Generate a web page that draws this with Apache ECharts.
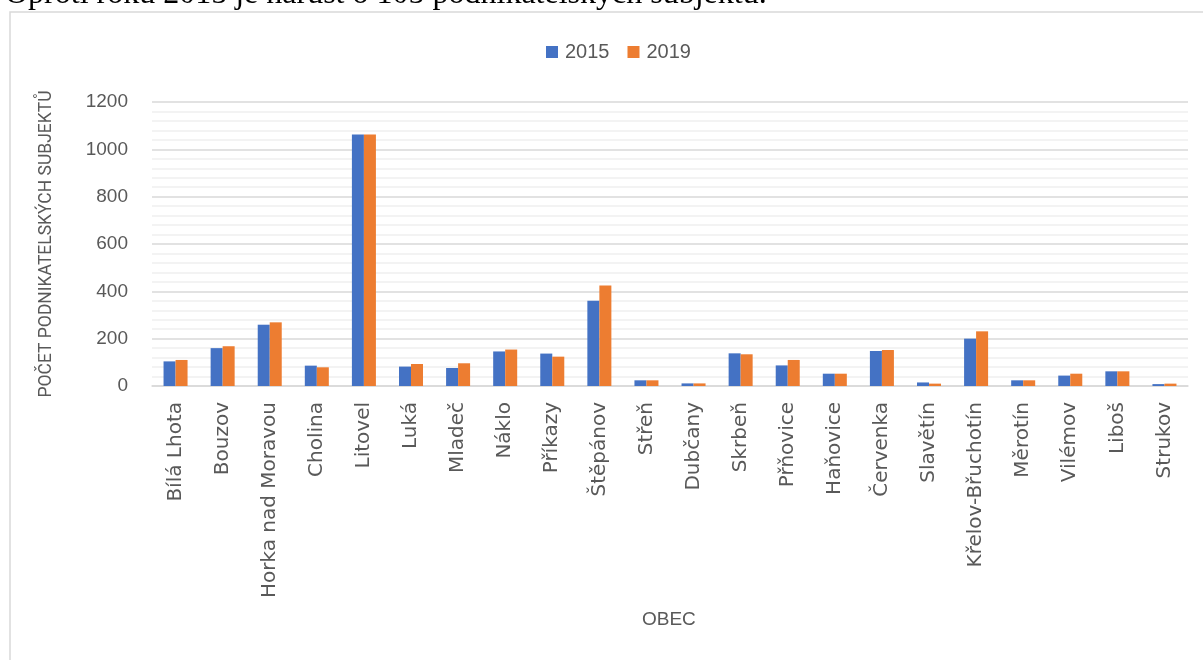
<!DOCTYPE html>
<html>
<head>
<meta charset="utf-8">
<script src="https://cdn.jsdelivr.net/npm/echarts@6/dist/echarts.min.js"></script>
<style>
html,body{margin:0;padding:0;background:#fff;}
#chart{width:1203px;height:660px;}
</style>
</head>
<body>
<div id="chart"></div>
<script>
const categories = ["Bílá Lhota","Bouzov","Horka nad Moravou","Cholina","Litovel","Luká","Mladeč","Náklo","Příkazy","Štěpánov","Střeň","Dubčany","Skrbeň","Přňovice","Haňovice","Červenka","Slavětín","Křelov-Břuchotín","Měrotín","Vilémov","Liboš","Strukov"];
const values2015 = [104,160,259,86,1063,82,76,146,137,360,24,11,138,87,52,148,15,200,24,44,62,8];
const values2019 = [110,168,269,79,1063,93,96,154,124,425,24,11,134,110,52,152,10,231,24,52,62,10];
const seriesNames = ["2015","2019"];
const yAxisTitle = "POČET PODNIKATELSKÝCH SUBJEKTŮ";
const xAxisTitle = "OBEC";
const headerText = "Oproti roku 2015 je nárůst o 105 podnikatelských subjektů.";

const chart = echarts.init(document.getElementById('chart'), null, {renderer:'canvas'});
const grey = '#595959';
chart.setOption({
  animation:false,
  backgroundColor:'#fff',
  color:['#4472C4','#ED7D31'],
  graphic:[
    {type:'text', left:5, top:-21, style:{text:headerText, font:'32px "Liberation Serif"', fill:'#000'}, silent:true, z:1},
    {type:'rect', shape:{x:10,y:12,width:1210,height:700}, style:{fill:'#fff', stroke:'#d9d9d9', lineWidth:1.5}, silent:true, z:0},
    {type:'text', left:642, top:610, style:{text:xAxisTitle, font:'19px "Liberation Sans"', fill:grey}, silent:true}
  ],
  legend:{
    data:seriesNames, left:541, top:37, itemWidth:12, itemHeight:12, itemGap:18,
    icon:'rect',
    textStyle:{fontFamily:'Liberation Sans', fontSize:20, color:grey, padding:[0,0,0,2]}
  },
  grid:{left:152, right:15, top:102, bottom:274, containLabel:false},
  xAxis:{
    type:'category', data:categories,
    axisLine:{lineStyle:{color:'#d9d9d9', width:1.5}},
    axisTick:{show:false},
    axisLabel:{rotate:90, margin:16, fontFamily:'DejaVu Sans', fontSize:20, color:grey, interval:0}
  },
  yAxis:{
    type:'value', min:0, max:1200, interval:200,
    name:yAxisTitle, nameLocation:'middle', nameGap:96, nameRotate:90,
    nameTextStyle:{fontFamily:'Roboto', fontSize:17.5, color:grey},
    axisLine:{show:false}, axisTick:{show:false},
    axisLabel:{fontFamily:'Liberation Sans', fontSize:19, color:grey, margin:24, formatter:function(v){return String(v);}},
    splitLine:{lineStyle:{color:'#d9d9d9', width:1.5}},
    minorTick:{show:false, splitNumber:5},
    minorSplitLine:{show:true, lineStyle:{color:'#f0f0f0', width:1.5}}
  },
  series:[
    {name:seriesNames[0], type:'bar', data:values2015, barGap:'0%', barCategoryGap:'49%'},
    {name:seriesNames[1], type:'bar', data:values2019, barGap:'0%', barCategoryGap:'49%'}
  ]
});
</script>
</body>
</html>
